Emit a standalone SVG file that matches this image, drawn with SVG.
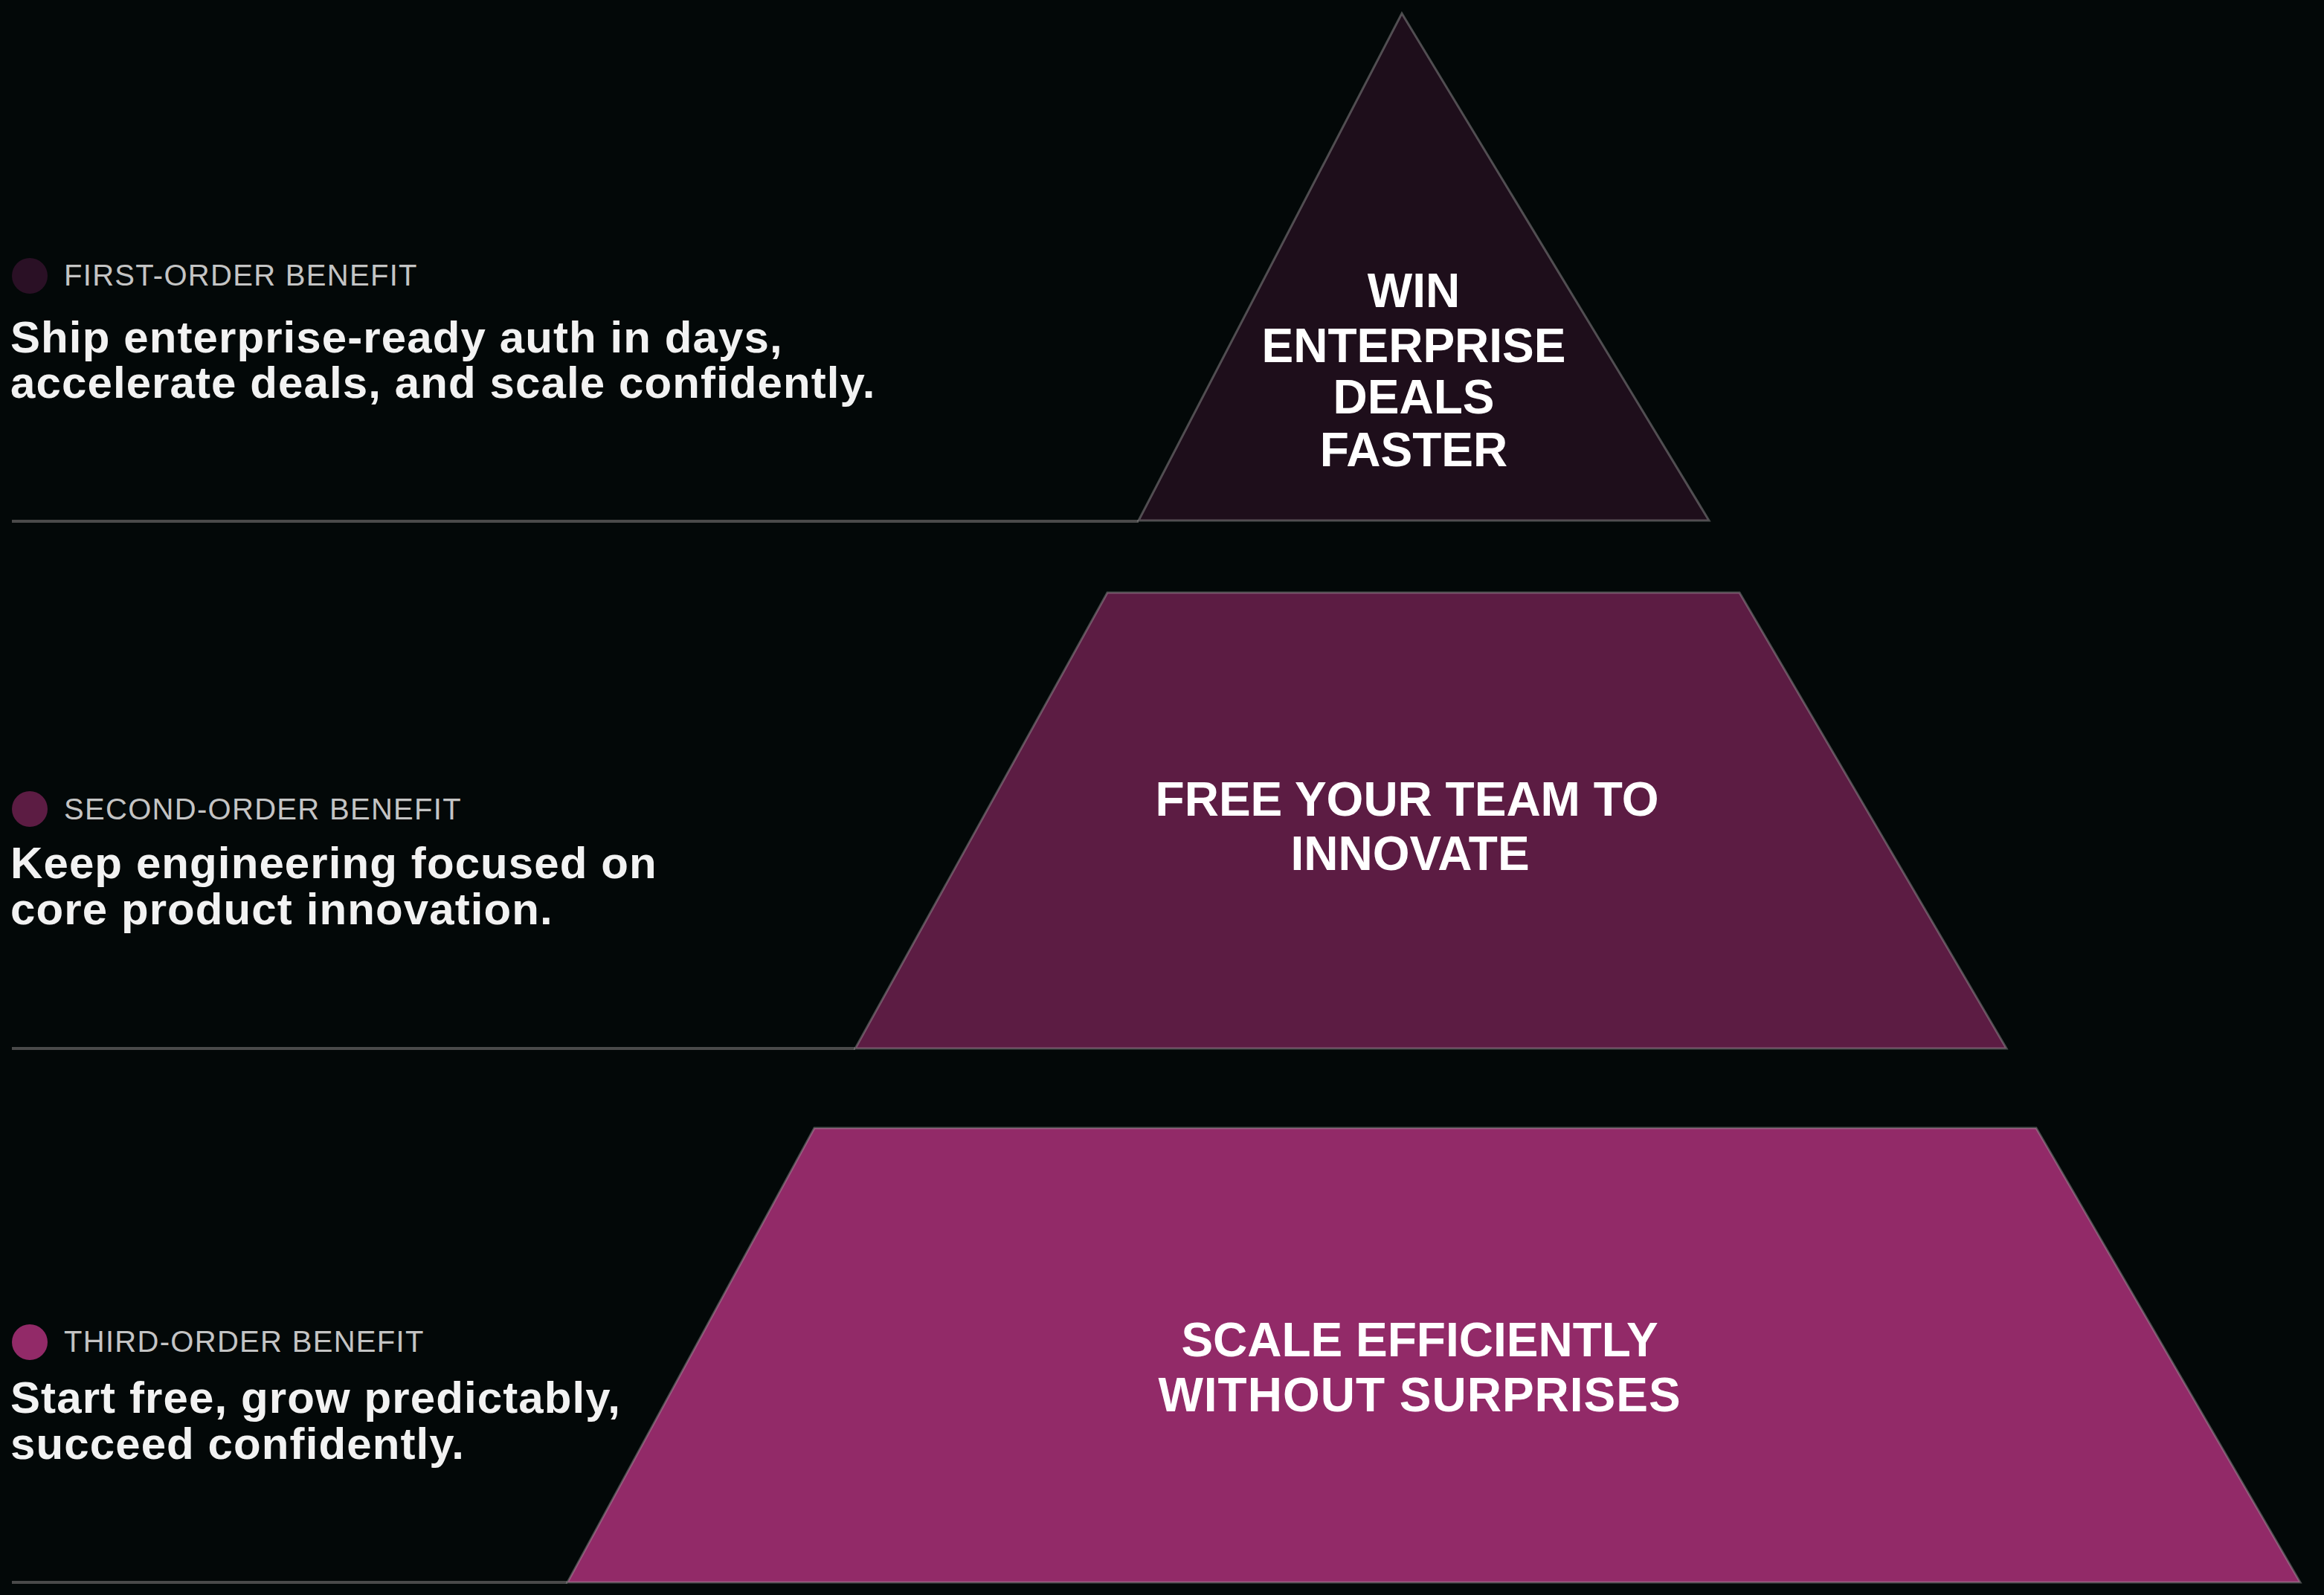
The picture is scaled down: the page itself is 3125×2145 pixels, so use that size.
<svg xmlns="http://www.w3.org/2000/svg" width="3125" height="2145" viewBox="0 0 3125 2145">
  <style>
    .bg { fill: #030808; }
    .sep { stroke: #4a4a4a; stroke-width: 4; fill: none; }
    .tier { stroke: #a0a0a0; stroke-opacity: 0.45; stroke-width: 3; stroke-linejoin: miter; }
    .tier-text { font-family: "Liberation Sans", Arial, sans-serif; font-weight: 700; font-size: 64px; fill: #ffffff; text-anchor: middle; }
    .label { font-family: "Liberation Sans", Arial, sans-serif; font-weight: 400; font-size: 40px; fill: #c4c4c4; letter-spacing: 1.3px; }
    .body { font-family: "Liberation Sans", Arial, sans-serif; font-weight: 700; font-size: 60px; fill: #f2f2f2; letter-spacing: 1.1px; }
  </style>
  <rect class="bg" x="0" y="0" width="3125" height="2145"/>

  <g id="separators">
    <line class="sep" x1="16" y1="701" x2="1531" y2="701"/>
    <line class="sep" x1="16" y1="1410" x2="1150" y2="1410"/>
    <line class="sep" x1="16" y1="2128" x2="763" y2="2128"/>
  </g>

  <g id="tier-top">
    <polygon class="tier" fill="#1e0e1b" points="1885,18 2298,700 1531,700"/>
    <text class="tier-text" x="1901" y="413">WIN</text>
    <text class="tier-text" x="1901" y="487">ENTERPRISE</text>
    <text class="tier-text" x="1901" y="556">DEALS</text>
    <text class="tier-text" x="1901" y="627">FASTER</text>
  </g>

  <g id="tier-middle">
    <polygon class="tier" fill="#5c1c43" points="1489,797 2339,797 2698,1410 1150,1410"/>
    <text class="tier-text" x="1892" y="1097">FREE YOUR TEAM TO</text>
    <text class="tier-text" x="1896" y="1170">INNOVATE</text>
  </g>

  <g id="tier-bottom">
    <polygon class="tier" fill="#922a68" points="1095,1517 2738,1517 3093,2128 763,2128"/>
    <text class="tier-text" x="1909" y="1824">SCALE EFFICIENTLY</text>
    <text class="tier-text" x="1909" y="1898" style="letter-spacing:1px">WITHOUT SURPRISES</text>
  </g>

  <g id="benefit-first">
    <circle cx="40" cy="371" r="24" fill="#2a1025"/>
    <text class="label" x="86" y="384">FIRST-ORDER BENEFIT</text>
    <text class="body" x="14" y="474">Ship enterprise-ready auth in days,</text>
    <text class="body" x="14" y="535">accelerate deals, and scale confidently.</text>
  </g>

  <g id="benefit-second">
    <circle cx="40" cy="1088" r="24" fill="#5c1c43"/>
    <text class="label" x="86" y="1102">SECOND-ORDER BENEFIT</text>
    <text class="body" x="14" y="1181">Keep engineering focused on</text>
    <text class="body" x="14" y="1243">core product innovation.</text>
  </g>

  <g id="benefit-third">
    <circle cx="40" cy="1805" r="24" fill="#922a68"/>
    <text class="label" x="86" y="1818">THIRD-ORDER BENEFIT</text>
    <text class="body" x="14" y="1900">Start free, grow predictably,</text>
    <text class="body" x="14" y="1962">succeed confidently.</text>
  </g>
</svg>
